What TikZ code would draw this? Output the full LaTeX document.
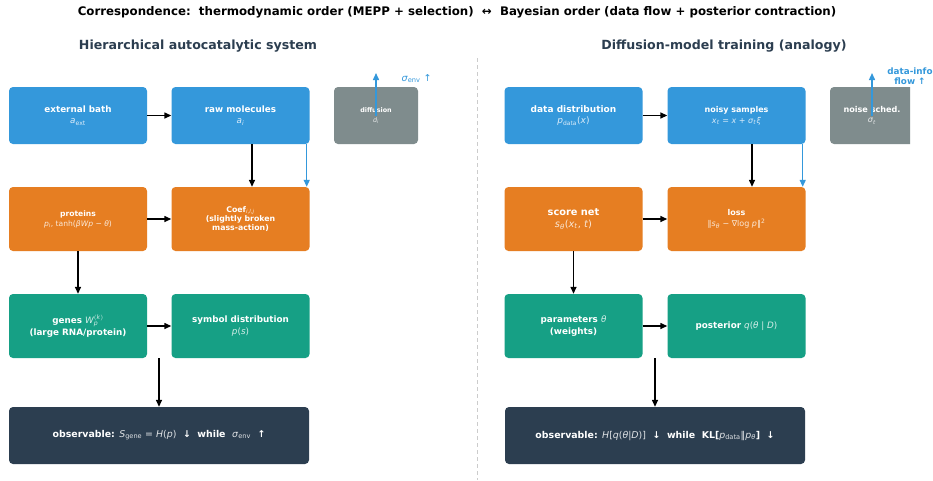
\documentclass[tikz,border=0pt]{standalone}
\usepackage{fontspec}
\setmainfont{DejaVu Sans}
\usetikzlibrary{arrows.meta}
\definecolor{cblue}{HTML}{3498DB}
\definecolor{corange}{HTML}{E67E22}
\definecolor{cteal}{HTML}{16A085}
\definecolor{cdark}{HTML}{2C3E50}
\definecolor{cgray}{HTML}{7F8C8D}
\definecolor{subc}{HTML}{EEEEEE}
\newcommand\mi[1]{\textit{#1}}
\newcommand\sbs[1]{\textsubscript{#1}}
\newcommand\lt[1]{{\mdseries\color{subc}#1}}
\tikzset{
  box/.style={draw=none, rounded corners=4pt, inner sep=0pt, align=center, text=white,
    font=\bfseries\fontsize{8.8}{11.5}\selectfont},
  bbox/.style={box, fill=cblue, minimum width=138pt, minimum height=57pt,
    execute at begin node={\colorlet{subc}{white!82!cblue}}},
  gbox/.style={box, fill=cgray, minimum width=84pt, minimum height=57pt,
    execute at begin node={\colorlet{subc}{white!82!cgray}}},
  obox/.style={box, fill=corange, minimum width=138pt, minimum height=64pt,
    execute at begin node={\colorlet{subc}{white!82!corange}}},
  tbox/.style={box, fill=cteal, minimum width=138pt, minimum height=64pt,
    execute at begin node={\colorlet{subc}{white!82!cteal}}},
  dbox/.style={box, fill=cdark, minimum width=300pt, minimum height=57pt,
    font=\bfseries\fontsize{9.4}{12}\selectfont,
    execute at begin node={\colorlet{subc}{white!85!cdark}}},
  arr/.style={draw=black, line width=1.4pt, -{Triangle[length=7pt,width=6pt]}},
  barr/.style={draw=cblue, line width=1.4pt, -{Triangle[length=7pt,width=6pt]}},
  heading/.style={font=\bfseries\fontsize{12.6}{14}\selectfont, text=cdark},
}
\begin{document}
\begin{tikzpicture}[x=1pt,y=-1pt]
\useasboundingbox (0,0) rectangle (933,480);
\fill[white] (0,0) rectangle (933,480);
% title and headings
\node[font=\bfseries\fontsize{11.8}{13}\selectfont] (title) at (457,12)
  {Correspondence:\ \ thermodynamic order (MEPP + selection)\ \ ↔\ \ Bayesian order (data flow + posterior contraction)};
\node[heading] (hl) at (198,46) {Hierarchical autocatalytic system};
\node[heading] (hr) at (724,46) {Diffusion-model training (analogy)};
% divider
\coordinate (dv1) at (477,58);
\coordinate (dv2) at (477,480);
\draw[black!20, line width=0.9pt, dash pattern=on 4pt off 3pt] (dv1) -- (dv2);

% left panel
\node[bbox] (ext) at (78,115.5) {external bath\\\lt{\mi{a}\sbs{ext}}};
\node[bbox] (raw) at (240.5,115.5) {raw molecules\\\lt{\mi{a}\sbs{\mi{i}}}};
\node[gbox, font=\bfseries\fontsize{6.4}{10}\selectfont] (diff) at (376,115.5) {diffusion\\\lt{\mi{d}\sbs{\mi{i}}}};
\node[obox, font=\bfseries\fontsize{7.6}{10}\selectfont] (prot) at (78,219) {proteins\\\lt{\mi{p}\sbs{\mi{i}}, tanh(\mi{βWp} − \mi{θ})}};
\node[obox, font=\bfseries\fontsize{7.8}{9.3}\selectfont] (coef) at (240.5,219) {Coef\lt{\sbs{\mi{i},\mi{l},\mi{j}}}\\(slightly broken\\mass-action)};
\node[tbox] (genes) at (78,326) {genes \lt{$\mathit{W}_{\mathit{p}}^{\mathit{(k)}}$}\\(large RNA/protein)};
\node[tbox] (sym) at (240.5,326) {symbol distribution\\\lt{\mi{p}(\mi{s})}};
\node[dbox] (obsl) at (159,435.5) {observable: \lt{\mi{S}\sbs{gene} = \mi{H}(\mi{p})}\ \ ↓\ \ while\ \ \lt{\mi{σ}\sbs{env}}\ \ ↑};

\coordinate (dtop) at (376,73);
\node[text=cblue, font=\fontsize{9.5}{11}\selectfont, anchor=west] (senv) at (398,79) {\mi{σ}\sbs{env} ↑};

\draw[arr] (ext) -- (raw);
\draw[arr] ([xshift=11.5pt]raw.south) -- ([xshift=11.5pt]coef.north);
\draw[barr] ([xshift=-3pt]raw.south east) -- ([xshift=-3pt]coef.north east);
\draw[barr] (diff.center) -- (dtop);
\draw[arr] (prot) -- (coef);
\draw[arr] (prot) -- (genes);
\draw[arr] (genes) -- (sym);
\draw[arr] (obsl.north |- genes.south) -- (obsl.north);

% right panel
\node[bbox, font=\bfseries\fontsize{9}{11.5}\selectfont] (data) at (573.5,115.5) {data distribution\\\lt{\mi{p}\sbs{data}(\mi{x})}};
\node[bbox, font=\bfseries\fontsize{8}{11}\selectfont] (noisy) at (736.5,115.5) {noisy samples\\\lt{\mi{x}\sbs{\mi{t}} = \mi{x} + \mi{σ}\sbs{\mi{t}}\mi{ξ}}};
\begin{scope}
\clip (0,0) rectangle (910,480);
\node[gbox, font=\bfseries\fontsize{8.1}{10}\selectfont] (sched) at (872,115.5) {noise sched.\\\lt{\mi{σ}\sbs{\mi{t}}}};
\end{scope}
\node[obox, font=\bfseries\fontsize{9.8}{11.5}\selectfont] (score) at (573.5,219) {score net\\\lt{\mi{s}\sbs{\mi{θ}}(\mi{x}\sbs{\mi{t}}, \mi{t})}};
\node[obox, font=\bfseries\fontsize{8}{11}\selectfont] (loss) at (736.5,219) {loss\\\lt{‖\mi{s}\sbs{\mi{θ}} − ∇log \mi{p}‖\textsuperscript{2}}};
\node[tbox] (params) at (573.5,326) {parameters \lt{\mi{θ}}\\(weights)};
\node[tbox] (post) at (736.5,326) {posterior \lt{\mi{q}(\mi{θ} | \mi{D})}};
\node[dbox] (obsr) at (655,435.5) {observable: \lt{\mi{H}[\mi{q}(\mi{θ}|\mi{D})]}\ \ ↓\ \ while\ \ KL[\lt{\mi{p}\sbs{data}‖\mi{p}\sbs{\mi{θ}}}]\ \ ↓};

\coordinate (stop) at (872,73);
\node[text=cblue, font=\bfseries\fontsize{8.8}{10}\selectfont, align=center] (dinfo) at (910,76) {data-info\\flow ↑};

\draw[arr] (data) -- (noisy);
\draw[arr] ([xshift=15.5pt]noisy.south) -- ([xshift=15.5pt]loss.north);
\draw[barr] ([xshift=-3pt]noisy.south east) -- ([xshift=-3pt]loss.north east);
\draw[barr] (sched.center) -- (stop);
\draw[arr] (score) -- (loss);
\draw[arr] (score) -- (params);
\draw[arr] (params) -- (post);
\draw[arr] (obsr.north |- params.south) -- (obsr.north);
\end{tikzpicture}
\end{document}
